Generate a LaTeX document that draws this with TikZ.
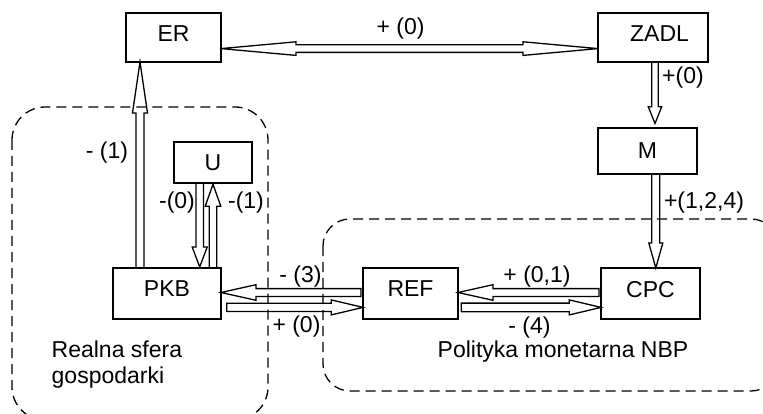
\documentclass[tikz,border=0pt]{standalone}
\usepackage{fontspec}
\setmainfont{Liberation Sans}
\usetikzlibrary{calc}
\tikzset{
  headlen/.store in=\hlen, shaftw/.store in=\shw, headw/.store in=\hhw,
  headlen=20pt, shaftw=3.8pt, headw=7.5pt,
  box/.style={draw, line width=1.8pt, inner sep=0pt, outer sep=0pt},
  region/.style={draw, line width=1.3pt, dash pattern=on 10pt off 6pt},
  lbl/.style={inner sep=0pt, anchor=center},
  harrow/.style={draw, line width=1.3pt, line join=miter, to path={
     ($(\tikztotarget)!\hlen!(\tikztostart)$) coordinate (hb)
     ($(\tikztostart)!\shw!90:(\tikztotarget)$) -- ($(hb)!\shw!90:(\tikztotarget)$)
     -- ($(hb)!\hhw!90:(\tikztotarget)$) -- (\tikztotarget)
     -- ($(hb)!\hhw!-90:(\tikztotarget)$) -- ($(hb)!\shw!-90:(\tikztotarget)$)
     -- ($(\tikztostart)!\shw!-90:(\tikztotarget)$) -- cycle}},
  dharrow/.style={draw, line width=1.3pt, line join=miter, to path={
     ($(\tikztostart)!\hlen!(\tikztotarget)$) coordinate (hb1)
     ($(\tikztotarget)!\hlen!(\tikztostart)$) coordinate (hb2)
     (\tikztostart) -- ($(hb1)!\hhw!90:(\tikztotarget)$) -- ($(hb1)!\shw!90:(\tikztotarget)$)
     -- ($(hb2)!\shw!90:(\tikztotarget)$) -- ($(hb2)!\hhw!90:(\tikztotarget)$)
     -- (\tikztotarget)
     -- ($(hb2)!\hhw!-90:(\tikztotarget)$) -- ($(hb2)!\shw!-90:(\tikztotarget)$)
     -- ($(hb1)!\shw!-90:(\tikztotarget)$) -- ($(hb1)!\hhw!-90:(\tikztotarget)$) -- cycle}},
}
\begin{document}
\begin{tikzpicture}[x=1pt,y=-1pt,font=\fontsize{23pt}{26pt}\selectfont]
\useasboundingbox (0,0) rectangle (763,414);
\fill[white] (0,0) rectangle (763,414);
\clip (0,0) rectangle (763,414);

% boxes
\node[box, minimum width=95pt, minimum height=49pt, text depth=7pt] (ER) at (173.5,37.5) {ER\hspace{11pt}};
\node[box, minimum width=110pt, minimum height=49pt, text depth=7pt] (ZADL) at (653,37.5) {\hspace{13pt}ZADL};
\node[box, minimum width=99pt, minimum height=46pt] (M) at (647.5,151) {M};
\node[box, minimum width=78pt, minimum height=41.5pt] (U) at (213,162.5) {U\hspace{10pt}};
\node[box, minimum width=108pt, minimum height=51pt, text depth=9pt] (PKB) at (167,293.5) {PKB\hspace{13pt}};
\node[box, minimum width=95pt, minimum height=51pt, text depth=9pt] (REF) at (410.5,293.5) {REF};
\node[box, minimum width=99pt, minimum height=51pt, text depth=9pt] (CPC) at (650.5,293.5) {CPC\hspace{14pt}};

% helper coordinates
\coordinate (yER) at (0,48.6);
\coordinate (xZM) at (655,0);
\coordinate (xMC) at (655.8,0);
\coordinate (xPE) at (140,0);
\coordinate (xUP) at (199.7,0);
\coordinate (xPU) at (213,0);
\coordinate (yA) at (0,292.5);
\coordinate (yB) at (0,307.4);

% connectors
\draw[dharrow, headlen=75pt, shaftw=3.8pt, headw=6.8pt] (ER.east |- yER) to (ZADL.west |- yER);
\draw[harrow, headlen=16.7pt, shaftw=3.3pt, headw=6.7pt] (ZADL.south -| xZM) to ($(M.north -| xZM)+(0,-4.5)$);
\draw[harrow, headlen=25pt, shaftw=4pt, headw=7pt] (M.south -| xMC) to (CPC.north -| xMC);
\draw[harrow, headlen=51pt, shaftw=4pt, headw=7.5pt] (PKB.north -| xPE) to (ER.south -| xPE);
\draw[harrow, headlen=20pt, shaftw=3.7pt, headw=7.5pt] (U.south -| xUP) to ($(PKB.north -| xUP)+(0,-1)$);
\draw[harrow, headlen=22pt, shaftw=3.7pt, headw=7.8pt] (PKB.north -| xPU) to ($(U.south -| xPU)+(0,1)$);
\draw[harrow, headlen=35pt, shaftw=3.9pt, headw=7.8pt] ($(REF.west |- yA)+(-2,0)$) to (PKB.east |- yA);
\draw[harrow, headlen=31.7pt, shaftw=4.1pt, headw=7.5pt] ($(PKB.east |- yB)+(5.7,0)$) to (REF.west |- yB);
\draw[harrow, headlen=35pt, shaftw=3.9pt, headw=7.8pt] ($(CPC.west |- yA)+(-2,0)$) to (REF.east |- yA);
\draw[harrow, headlen=31.7pt, shaftw=4.3pt, headw=7.5pt] ($(REF.east |- yB)+(3.2,0)$) to (CPC.west |- yB);

% regions
\draw[region, rounded corners=33pt] (12,107) rectangle (268,420);
\draw[region, rounded corners=27pt] (323,219) rectangle (778,391);

% labels
\node[lbl] (l1) at (400.5,29) {+ (0)};
\node[lbl] (l2) at (683,78) {+(0)};
\node[lbl] (l3) at (704,203) {+(1,2,4)};
\node[lbl] (l4) at (107,153) {- (1)};
\node[lbl] (l5) at (177,203) {-(0)};
\node[lbl] (l6) at (246,203) {-(1)};
\node[lbl] (l7) at (300.5,277) {- (3)};
\node[lbl] (l8) at (296.5,327) {+ (0)};
\node[lbl] (l9) at (537,277) {+ (0,1)};
\node[lbl] (l10) at (529.5,328) {- (4)};
\node[lbl] (l11) at (563,352) {Polityka monetarna NBP};
\node[lbl, anchor=west, align=left] (l12) at (51.5,365) {Realna sfera\\gospodarki};
\end{tikzpicture}
\end{document}
